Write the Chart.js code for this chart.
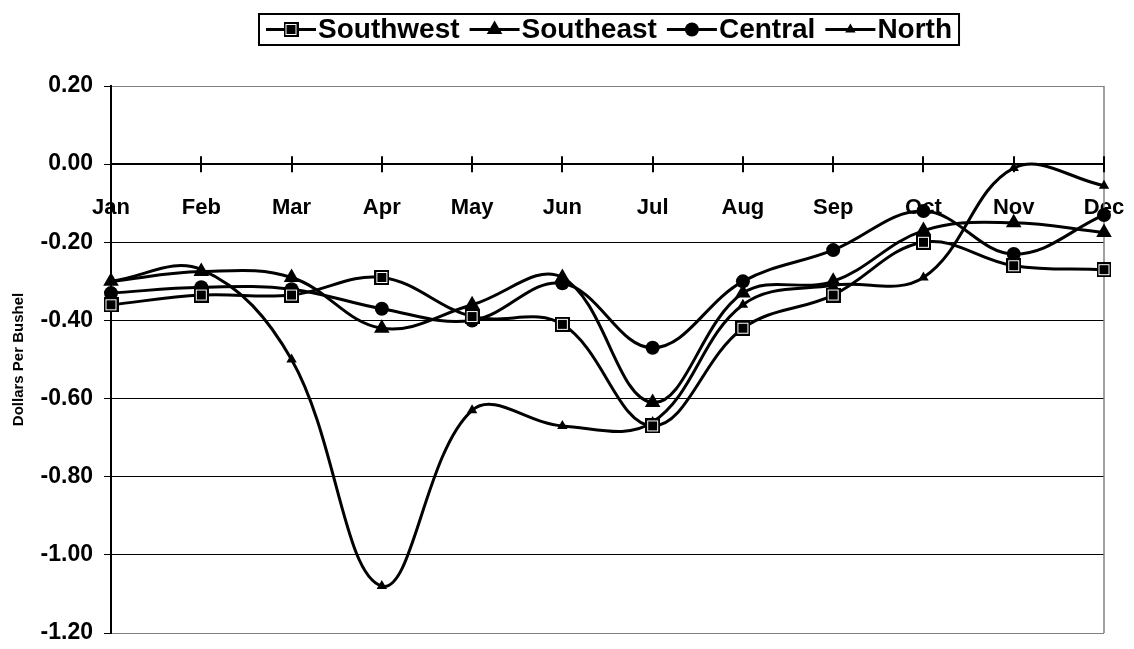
<!DOCTYPE html>
<html>
<head>
<meta charset="utf-8">
<script src="https://cdn.jsdelivr.net/npm/chart.js@4.4.1/dist/chart.umd.min.js"></script>
<style>
  html, body { margin: 0; padding: 0; background: #fff; }
  #wrap { width: 1134px; height: 649px; }
</style>
</head>
<body>
<div id="wrap"><canvas id="c" width="1134" height="649"></canvas></div>
<script>
// Monthly basis by region, dollars per bushel
const months = ['Jan', 'Feb', 'Mar', 'Apr', 'May', 'Jun', 'Jul', 'Aug', 'Sep', 'Oct', 'Nov', 'Dec'];
const seriesNames = ['Southwest', 'Southeast', 'Central', 'North'];
const southwest = [-0.36, -0.335, -0.335, -0.29, -0.39, -0.41, -0.67, -0.42, -0.335, -0.20, -0.26, -0.27];
const southeast = [-0.30, -0.275, -0.29, -0.42, -0.36, -0.29, -0.61, -0.33, -0.30, -0.17, -0.15, -0.175];
const central   = [-0.33, -0.315, -0.32, -0.37, -0.40, -0.305, -0.47, -0.30, -0.22, -0.12, -0.23, -0.13];
const north     = [-0.30, -0.27, -0.50, -1.08, -0.63, -0.67, -0.66, -0.36, -0.31, -0.29, -0.01, -0.055];
const yMin = -1.2, yMax = 0.2, yStep = 0.2;

const FONT = '"Liberation Sans", Arial, sans-serif';

// Square marker: black block with a thin white inner ring
function squareMarker(size) {
  const c = document.createElement('canvas');
  c.width = size; c.height = size;
  const g = c.getContext('2d');
  g.fillStyle = '#000';
  g.fillRect(0, 0, size, size);
  g.strokeStyle = '#fff';
  g.lineWidth = 1;
  g.strokeRect(2.5, 2.5, size - 5, size - 5);
  return c;
}
const sq = squareMarker(15);

function lineSeries(label, data, style, radius) {
  return {
    label, data,
    borderColor: '#000', borderWidth: 3,
    backgroundColor: '#000',
    pointStyle: style, pointRadius: radius, pointHoverRadius: radius,
    pointBackgroundColor: '#000', pointBorderColor: '#000', pointBorderWidth: 0,
    tension: 0.38, fill: false
  };
}

// Scales keep no extra edge padding; the layout padding places the plot
function noEdgePadding(scale) {
  scale.paddingLeft = 0; scale.paddingRight = 0;
  scale.paddingTop = 0; scale.paddingBottom = 0;
}

// Boxed legend: short line with the series marker, then the name
const boxLegend = {
  id: 'boxLegend',
  afterDraw(chart) {
    const ctx = chart.ctx;
    ctx.save();
    ctx.font = 'bold 28px ' + FONT;
    const sets = chart.data.datasets;
    const lineLen = 50, gapText = 2, gapItem = 10, padL = 7, padR = 7;
    const widths = sets.map(ds => ctx.measureText(ds.label).width);
    const total = padL + padR + widths.reduce((s, w) => s + lineLen + gapText + w, 0) + gapItem * (sets.length - 1);
    const ca = chart.chartArea;
    let x = Math.round((ca.left + ca.right) / 2 - total / 2) + 2;
    const top = 14, h = 31, midY = top + h / 2;
    ctx.lineWidth = 2;
    ctx.strokeStyle = '#000';
    ctx.strokeRect(x, top, total, h);
    x += padL;
    sets.forEach((ds, i) => {
      ctx.lineWidth = 3;
      ctx.beginPath();
      ctx.moveTo(x, midY);
      ctx.lineTo(x + lineLen, midY);
      ctx.stroke();
      ctx.fillStyle = '#000';
      Chart.helpers.drawPoint(ctx, { pointStyle: ds.pointStyle, radius: ds.pointRadius, rotation: 0, borderWidth: 0 }, x + lineLen / 2, midY);
      x += lineLen + gapText;
      ctx.fillStyle = '#000';
      ctx.textBaseline = 'middle';
      ctx.textAlign = 'left';
      ctx.fillText(ds.label, x, midY + 1);
      x += widths[i] + gapItem;
    });
    ctx.restore();
  }
};

// Cross tick marks on the category axis and the grey right frame edge
const axisExtras = {
  id: 'axisExtras',
  beforeDatasetsDraw(chart) {
    const ctx = chart.ctx, xs = chart.scales.x, ys = chart.scales.y, ca = chart.chartArea;
    const y0 = ys.getPixelForValue(0);
    ctx.save();
    ctx.strokeStyle = '#808080';
    ctx.lineWidth = 1.5;
    ctx.beginPath();
    ctx.moveTo(ca.right, ca.top);
    ctx.lineTo(ca.right, ca.bottom);
    ctx.stroke();
    ctx.strokeStyle = '#000';
    ctx.lineWidth = 2;
    months.forEach((m, i) => {
      const px = Math.round(xs.getPixelForValue(i));
      ctx.beginPath();
      ctx.moveTo(px, y0 - 8);
      ctx.lineTo(px, y0 + 8);
      ctx.stroke();
    });
    ctx.restore();
  }
};

new Chart(document.getElementById('c'), {
  type: 'line',
  data: {
    labels: months,
    datasets: [
      lineSeries(seriesNames[0], southwest, sq, 7),
      lineSeries(seriesNames[1], southeast, 'triangle', 9),
      lineSeries(seriesNames[2], central, 'circle', 7),
      lineSeries(seriesNames[3], north, 'triangle', 6)
    ]
  },
  options: {
    responsive: false,
    animation: false,
    devicePixelRatio: 1,
    layout: { padding: { top: 86, right: 30, bottom: 16, left: 0 } },
    plugins: {
      legend: { display: false },
      tooltip: { enabled: false }
    },
    scales: {
      x: {
        type: 'category',
        position: { y: 0 },
        offset: false,
        afterFit: noEdgePadding,
        grid: { display: false, drawTicks: false, offset: false },
        border: { display: true, color: '#000', width: 2 },
        ticks: {
          color: '#000', padding: 31, maxRotation: 0, autoSkip: false,
          font: { family: FONT, size: 22, weight: 'bold' }
        }
      },
      y: {
        min: yMin, max: yMax,
        afterFit(scale) { noEdgePadding(scale); scale.width = 111; },
        grid: {
          color: c => (c.tick && (Math.abs(c.tick.value - yMax) < 1e-6 || Math.abs(c.tick.value - yMin) < 1e-6)) ? '#808080' : '#000',
          tickColor: '#000', lineWidth: 1, tickLength: 7
        },
        border: { display: true, color: '#000', width: 2 },
        ticks: {
          stepSize: yStep, color: '#000', padding: 11,
          font: { family: FONT, size: 23, weight: 'bold' },
          callback: v => (Math.abs(v) < 1e-9 ? 0 : v).toFixed(2)
        },
        title: {
          display: true, text: 'Dollars Per Bushel', color: '#000',
          font: { family: FONT, size: 15, weight: 'bold' },
          padding: { top: 10, bottom: 0 }
        }
      }
    }
  },
  plugins: [boxLegend, axisExtras]
});
</script>
</body>
</html>
